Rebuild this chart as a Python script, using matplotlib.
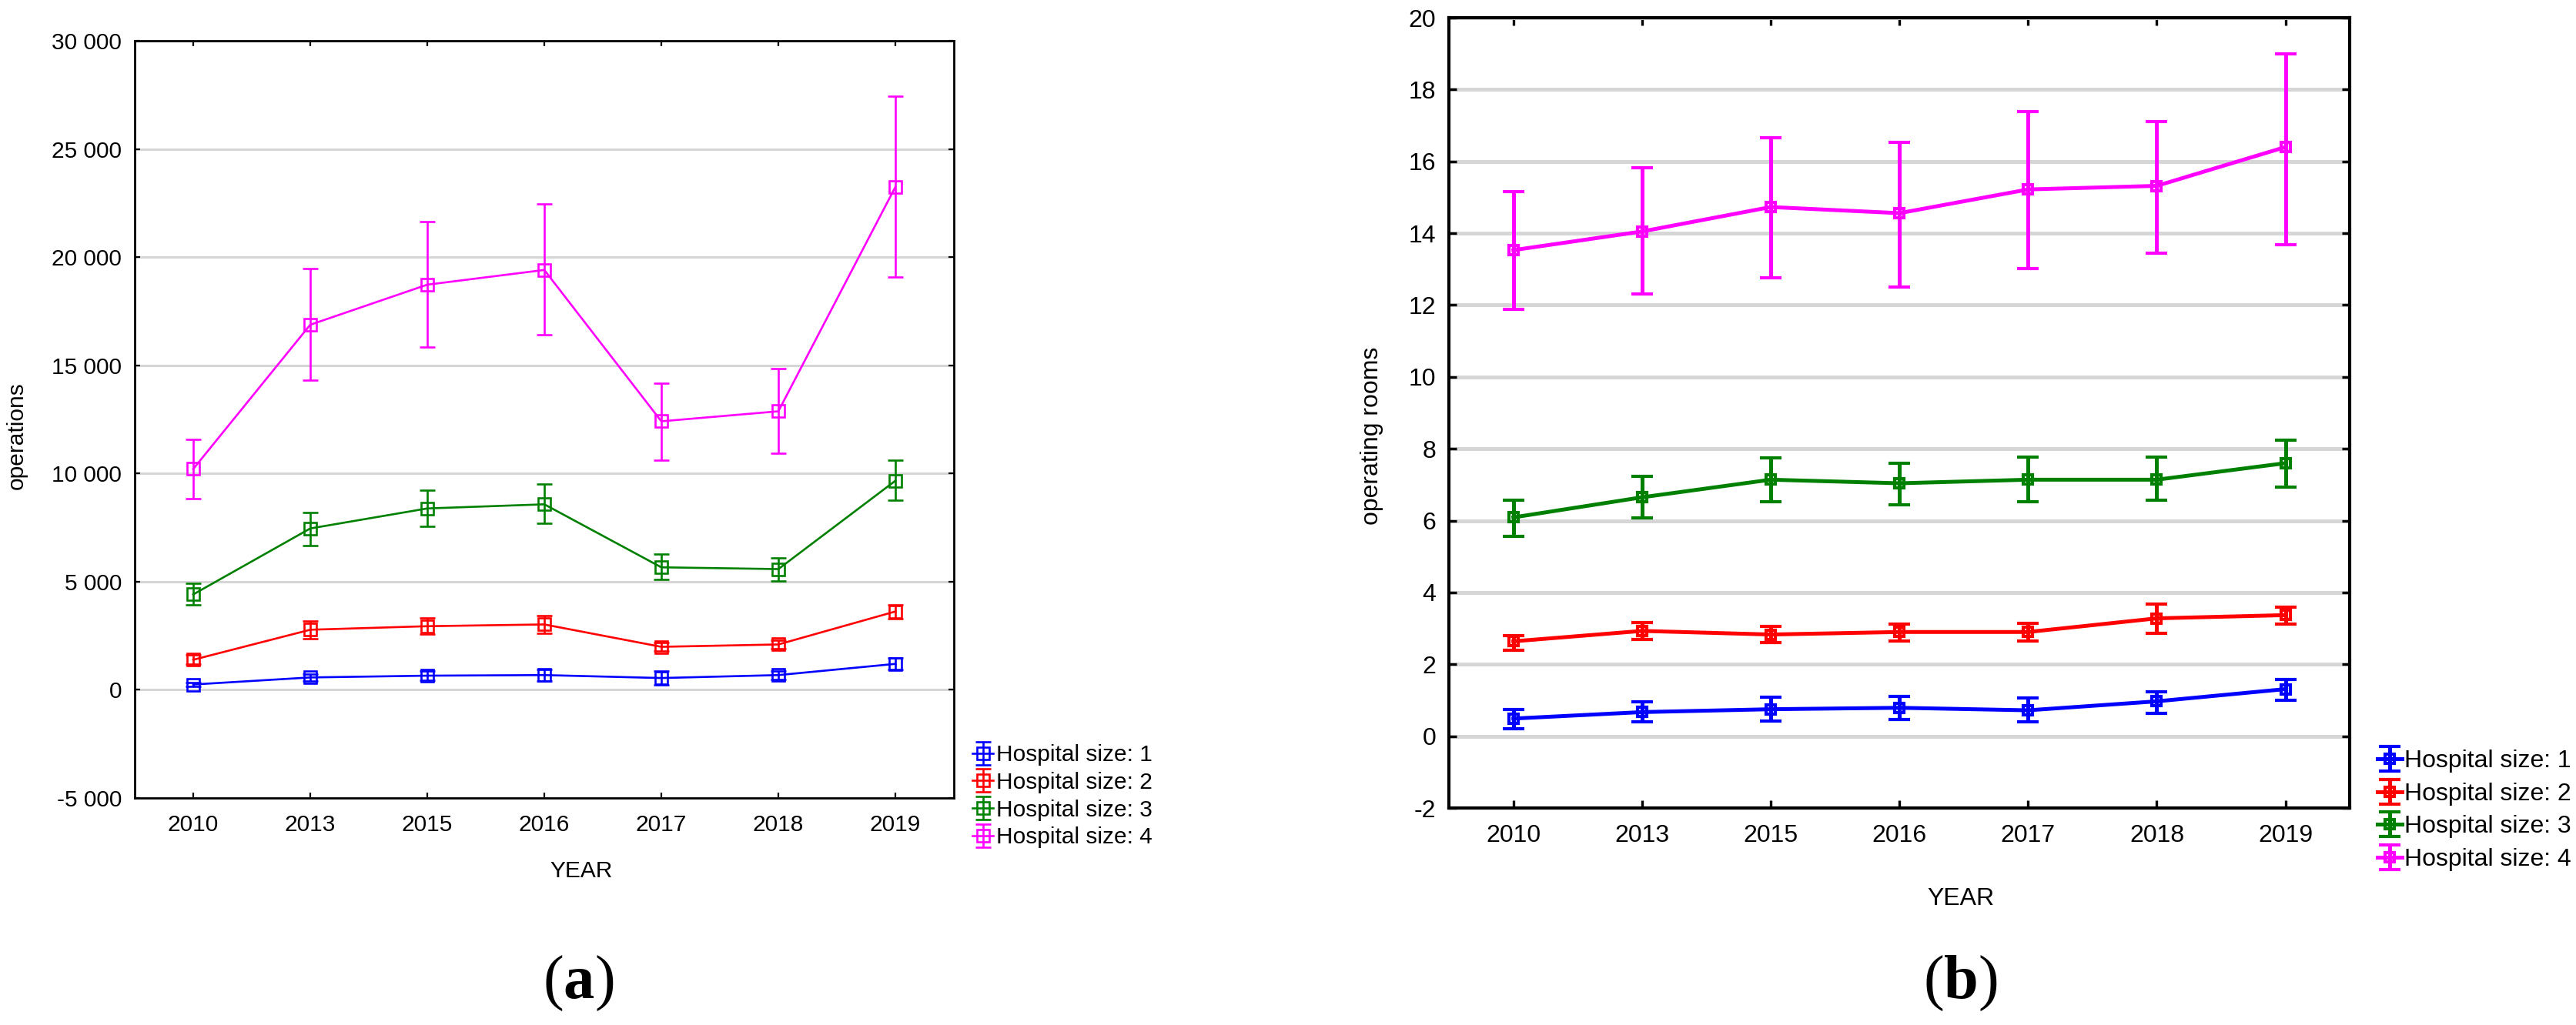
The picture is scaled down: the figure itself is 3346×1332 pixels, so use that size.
import matplotlib
matplotlib.use("Agg")
import matplotlib.pyplot as plt
from matplotlib.ticker import FuncFormatter, MultipleLocator

years = ["2010", "2013", "2015", "2016", "2017", "2018", "2019"]
labels = ["Hospital size: 1", "Hospital size: 2", "Hospital size: 3", "Hospital size: 4"]
colors = ["#0000ff", "#ff0000", "#008000", "#ff00ff"]

# (a) operations: mean and interval ends per hospital size
ops1 = [245, 571, 653, 680, 544, 680, 1198]
ops1_lo = [140, 400, 430, 420, 230, 480, 940]
ops1_hi = [350, 740, 880, 940, 860, 880, 1460]
ops2 = [1388, 2776, 2940, 3021, 1987, 2096, 3620]
ops2_lo = [1180, 2370, 2560, 2600, 1800, 1900, 3300]
ops2_hi = [1600, 3190, 3330, 3420, 2170, 2300, 3940]
ops3 = [4410, 7458, 8383, 8574, 5662, 5580, 9663]
ops3_lo = [3920, 6670, 7540, 7700, 5090, 5040, 8770]
ops3_hi = [4930, 8190, 9230, 9500, 6290, 6100, 10620]
ops4 = [10207, 16875, 18727, 19407, 12411, 12874, 23245]
ops4_lo = [8820, 14320, 15840, 16410, 10620, 10940, 19080]
ops4_hi = [11570, 19460, 21640, 22460, 14180, 14860, 27440]

# (b) operating rooms
rooms1 = [0.49, 0.67, 0.75, 0.79, 0.72, 0.97, 1.31]
rooms1_lo = [0.21, 0.39, 0.43, 0.46, 0.41, 0.64, 1.00]
rooms1_hi = [0.74, 0.95, 1.08, 1.11, 1.06, 1.23, 1.57]
rooms2 = [2.64, 2.93, 2.83, 2.90, 2.90, 3.28, 3.37]
rooms2_lo = [2.39, 2.69, 2.60, 2.65, 2.65, 2.87, 3.11]
rooms2_hi = [2.80, 3.16, 3.06, 3.13, 3.15, 3.67, 3.60]
rooms3 = [6.09, 6.65, 7.14, 7.04, 7.14, 7.14, 7.60]
rooms3_lo = [5.57, 6.08, 6.52, 6.45, 6.52, 6.57, 6.94]
rooms3_hi = [6.57, 7.24, 7.75, 7.60, 7.76, 7.76, 8.24]
rooms4 = [13.53, 14.05, 14.73, 14.56, 15.22, 15.32, 16.40]
rooms4_lo = [11.88, 12.30, 12.76, 12.51, 13.02, 13.45, 13.68]
rooms4_hi = [15.15, 15.82, 16.66, 16.53, 17.38, 17.10, 19.00]

plt.rcParams['font.family'] = ['Liberation Sans', 'DejaVu Sans']
plt.rcParams['axes.unicode_minus'] = False
plt.rcParams['mathtext.fontset'] = 'custom'
plt.rcParams['mathtext.rm'] = 'Liberation Serif'
plt.rcParams['mathtext.bf'] = 'Liberation Serif:bold'

fig = plt.figure(figsize=(33.46, 13.32), dpi=100)
axa = fig.add_axes([0.0523, 0.2215, 0.318, 0.7387])
axb = fig.add_axes([0.5625, 0.2117, 0.3497, 0.771])


def draw_panel(ax, series, lw, ms, mew, cap, fs, spine_w, grid_w, tick_len):
    x = list(range(len(years)))
    for (m, lo, hi), c, lab in zip(series, colors, labels):
        err = [[a - b for a, b in zip(m, lo)], [b - a for a, b in zip(m, hi)]]
        ax.errorbar(x, m, yerr=err, color=c, lw=lw, elinewidth=lw,
                    marker='s', ms=ms, mfc='none', mec=c, mew=mew,
                    capsize=cap, capthick=lw, label=lab)
    ax.set_xlim(-0.5, len(years) - 0.5)
    ax.set_xticks(x)
    ax.set_xticklabels(years)
    ax.yaxis.grid(True, color='#d6d6d6', lw=grid_w)
    ax.set_axisbelow(True)
    for s in ax.spines.values():
        s.set_linewidth(spine_w)
    ax.tick_params(direction='in', top=True, right=True, length=tick_len,
                   width=spine_w * 0.8, labelsize=fs)
    ax.tick_params(axis='y', pad=12)
    ax.tick_params(axis='x', pad=15)


draw_panel(axa, [(ops1, ops1_lo, ops1_hi), (ops2, ops2_lo, ops2_hi),
                 (ops3, ops3_lo, ops3_hi), (ops4, ops4_lo, ops4_hi)],
           lw=1.9, ms=11, mew=1.9, cap=7, fs=21.5, spine_w=2.0, grid_w=2.2, tick_len=5)
axa.set_ylim(-5000, 30000)
axa.yaxis.set_major_locator(MultipleLocator(5000))
axa.yaxis.set_major_formatter(FuncFormatter(lambda v, p: f"{int(v):,}".replace(",", " ")))
axa.set_ylabel("operations", fontsize=21.5)
axa.yaxis.set_label_coords(-0.131, 0.479)
axa.set_xlabel("YEAR", fontsize=21.5)
axa.xaxis.set_label_coords(0.545, -0.082)
axa.legend(loc='upper left', bbox_to_anchor=(0.3775, 0.274), bbox_transform=fig.transFigure,
           frameon=False, fontsize=21.5, borderpad=0, borderaxespad=0,
           handlelength=0.9, handletextpad=0.15, labelspacing=0.26)

draw_panel(axb, [(rooms1, rooms1_lo, rooms1_hi), (rooms2, rooms2_lo, rooms2_hi),
                 (rooms3, rooms3_lo, rooms3_hi), (rooms4, rooms4_lo, rooms4_hi)],
           lw=3.6, ms=9, mew=3.0, cap=10, fs=23, spine_w=3.0, grid_w=3.6, tick_len=7)
axb.set_ylim(-2, 20)
axb.yaxis.set_major_locator(MultipleLocator(2))
axb.set_ylabel("operating rooms", fontsize=23)
axb.yaxis.set_label_coords(-0.073, 0.471)
axb.set_xlabel("YEAR", fontsize=23)
axb.xaxis.set_label_coords(0.568, -0.100)
axb.legend(loc='upper left', bbox_to_anchor=(0.9229, 0.2685), bbox_transform=fig.transFigure,
           frameon=False, fontsize=23, borderpad=0, borderaxespad=0,
           handlelength=1.0, handletextpad=0.1, labelspacing=0.39)

fig.text(751 / 3346, 1 - 1278 / 1332, r"$(\mathbf{a})$", fontsize=58, ha='center', va='center')
fig.text(2546 / 3346, 1 - 1278 / 1332, r"$(\mathbf{b})$", fontsize=58, ha='center', va='center')

fig.savefig("out.png", dpi=100)
